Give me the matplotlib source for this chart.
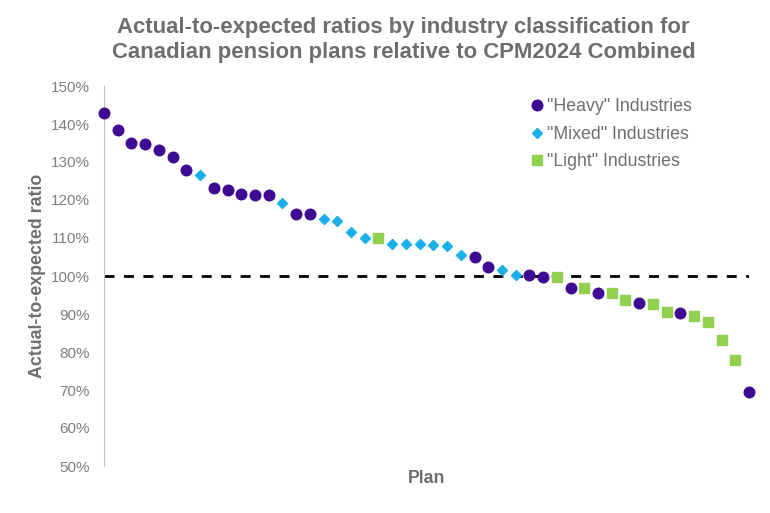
import numpy as np
import matplotlib.pyplot as plt
from matplotlib.ticker import PercentFormatter

plt.rcParams['font.family'] = ['Liberation Sans', 'DejaVu Sans']

# Ratio per plan (in %), sorted descending, with industry group
ratios = [142.8, 138.5, 135.0, 134.8, 133.1, 131.4, 128.0, 126.5, 123.2, 122.5,
          121.7, 121.3, 121.3, 119.1, 116.2, 116.2, 114.9, 114.5, 111.7, 110.0,
          110.0, 108.5, 108.5, 108.5, 108.1, 107.9, 105.6, 105.0, 102.3, 101.5,
          100.2, 100.2, 99.8, 99.8, 96.9, 96.8, 95.6, 95.5, 93.6, 93.0,
          92.6, 90.4, 90.3, 89.5, 87.9, 83.1, 77.9, 69.4]
groups = ['H', 'H', 'H', 'H', 'H', 'H', 'H', 'M', 'H', 'H',
          'H', 'H', 'H', 'M', 'H', 'H', 'M', 'M', 'M', 'M',
          'L', 'M', 'M', 'M', 'M', 'M', 'M', 'H', 'H', 'M',
          'M', 'H', 'H', 'L', 'H', 'L', 'H', 'L', 'L', 'H',
          'L', 'L', 'H', 'L', 'L', 'L', 'L', 'H']

series_labels = {'H': '"Heavy" Industries', 'M': '"Mixed" Industries', 'L': '"Light" Industries'}
series_style = {
    'H': dict(marker='o', color='#3D0A91', ms=7.6),
    'M': dict(marker='D', color='#19B0EA', ms=5.0),
    'L': dict(marker='s', color='#92D050', ms=6.8),
}

ratios = np.array(ratios)
groups = np.array(groups)
plans = np.arange(1, len(ratios) + 1)

fig = plt.figure(figsize=(7.7, 5.13), dpi=100)
ax = fig.add_axes([104 / 770, 1 - 466 / 513, (749 - 104) / 770, (466 - 86) / 513])

ax.axhline(100, color='black', lw=2, ls=(0, (3.6, 3.4)), zorder=1)

for g in ['H', 'M', 'L']:
    mask = groups == g
    st = series_style[g]
    ax.plot(plans[mask], ratios[mask], ls='none', marker=st['marker'], ms=st['ms'],
            color=st['color'], mec=st['color'], label=series_labels[g],
            clip_on=False, zorder=3)

ax.set_xlim(1, len(ratios))
ax.set_ylim(50, 150)
ax.set_yticks(np.arange(50, 151, 10))
ax.yaxis.set_major_formatter(PercentFormatter(decimals=0))
ax.set_xticks([])
for s in ['top', 'right', 'bottom']:
    ax.spines[s].set_visible(False)
ax.spines['left'].set_color('#BFBFBF')
ax.tick_params(axis='y', length=0, pad=10.5, labelsize=11, labelcolor='#7F7F7F')

ax.set_ylabel('Actual-to-expected ratio', fontsize=12.8, fontweight='bold',
              color='#6E6E6E', labelpad=3)
ax.set_xlabel('Plan', fontsize=12.8, fontweight='bold', color='#6E6E6E', labelpad=3)

fig.suptitle('Actual-to-expected ratios by industry classification for\n'
             'Canadian pension plans relative to CPM2024 Combined',
             x=0.524, y=0.966, fontsize=15.9, fontweight='bold', color='#6E6E6E',
             linespacing=1.24)

leg = ax.legend(loc='upper left', bbox_to_anchor=(0.660, 0.968), frameon=False,
                fontsize=12.8, handletextpad=0.2, handlelength=0.8,
                labelspacing=0.6, borderaxespad=0, borderpad=0)
for t in leg.get_texts():
    t.set_color('#6E6E6E')

fig.savefig('out.png', dpi=100)
